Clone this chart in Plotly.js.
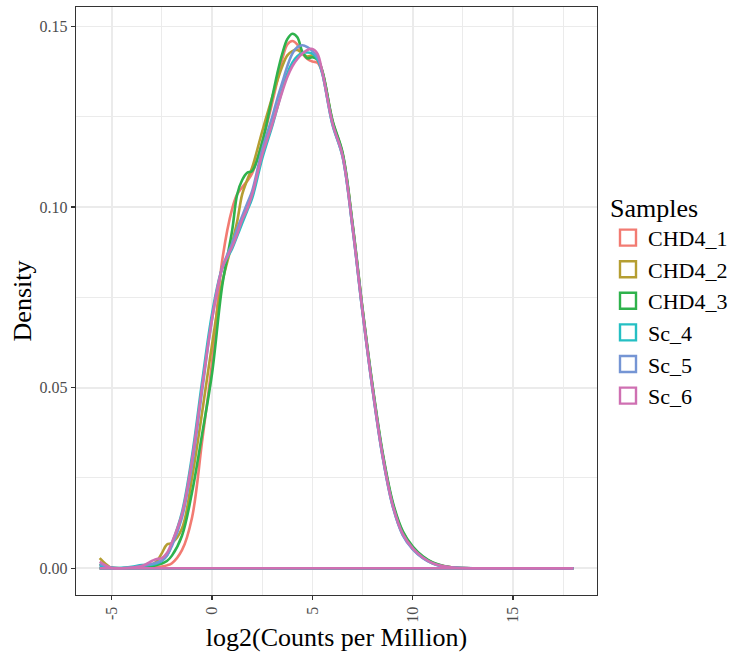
<!DOCTYPE html>
<html>
<head>
<meta charset="utf-8">
<script src="https://cdn.plot.ly/plotly-3.0.1.min.js"></script>
<style>
html,body{margin:0;padding:0;background:#fff;}
#chart{width:743px;height:658px;}
</style>
</head>
<body>
<div id="chart"></div>
<script>
// x positions of the density estimates (log2 CPM)
const xGrid = [-5.6,-5.3,-5,-4.5,-4,-3.5,-3,-2.75,-2.5,-2.25,-2,-1.5,-1,-0.5,0,0.5,1,1.25,1.5,1.75,2,2.5,3,3.25,3.5,3.75,4,4.25,4.5,4.75,5,5.25,5.5,
  6,6.5,7,7.5,8,8.5,9,9.5,10,10.5,11,11.5,12,13,14,15,16,17,18];

const sampleNames = ["CHD4_1","CHD4_2","CHD4_3","Sc_4","Sc_5","Sc_6"];

const CHD4_1 = [.0010,.0004,.0001,0,.0001,.0002,.0003,.0004,.0005,.0008,.0014,.0050,.0140,.0350,.0570,.0850,.0995,.1035,.1055,.1072,.1094,.1180,.1290,.1350,.1410,.1450,.1460,.1450,.1425,.1410,.1403,.1400,.1372,
  .1236,.1147,.0950,.0714,.0500,.0314,.0178,.0098,.0057,.0031,.0015,.0006,.0002,0,0,0,0,0,0];
const CHD4_2 = [.0028,.0012,.0001,0,.0001,.0003,.0010,.0020,.0042,.0066,.0070,.0110,.0250,.0430,.0620,.0790,.0900,.0960,.1035,.1075,.1110,.1210,.1305,.1350,.1390,.1420,.1432,.1435,.1425,.1417,.1420,.1412,.1375,
  .1238,.1149,.0952,.0716,.0502,.0316,.0180,.0100,.0058,.0032,.0015,.0006,.0002,0,0,0,0,0,0];
const CHD4_3 = [.0012,.0005,.0001,0,.0001,.0003,.0006,.0009,.0013,.0020,.0035,.0090,.0210,.0370,.0540,.0780,.0935,.1035,.1075,.1095,.1100,.1180,.1305,.1370,.1425,.1465,.1480,.1470,.1430,.1412,.1415,.1408,.1376,
  .1240,.1152,.0955,.0718,.0505,.0320,.0184,.0103,.0060,.0033,.0016,.0007,.0002,0,0,0,0,0,0];
const Sc_4 = [.0008,.0004,.0001,.0001,.0004,.0009,.0010,.0013,.0020,.0035,.0068,.0155,.0310,.0515,.0705,.0830,.0885,.0920,.0955,.0990,.1025,.1135,.1225,.1275,.1325,.1370,.1400,.1418,.1427,.1428,.1425,.1410,.1368,
  .1228,.1140,.0942,.0707,.0494,.0309,.0173,.0093,.0054,.0029,.0013,.0005,.0002,0,0,0,0,0,0];
const Sc_5 = [.0012,.0005,.0001,0,.0002,.0006,.0012,.0016,.0022,.0035,.0062,.0140,.0285,.0490,.0690,.0830,.0900,.0940,.0975,.1010,.1045,.1160,.1250,.1300,.1345,.1390,.1425,.1443,.1448,.1443,.1432,.1415,.1370,
  .1230,.1141,.0943,.0708,.0494,.0308,.0172,.0092,.0052,.0028,.0013,.0005,.0002,0,0,0,0,0,0];
const Sc_6 = [.0018,.0008,.0001,0,.0002,.0006,.0020,.0026,.0028,.0042,.0072,.0150,.0300,.0500,.0690,.0830,.0890,.0925,.0965,.0995,.1035,.1145,.1230,.1275,.1320,.1360,.1390,.1410,.1425,.1435,.1438,.1425,.1372,
  .1232,.1143,.0945,.0710,.0496,.0311,.0175,.0095,.0055,.0030,.0014,.0006,.0002,0,0,0,0,0,0];

const seriesValues = [CHD4_1, CHD4_2, CHD4_3, Sc_4, Sc_5, Sc_6];
const seriesColors = ["#F27B72","#B59E32","#2EB24C","#25BFC3","#7595D4","#CF70B2"];

const xTickVals = [-5,0,5,10,15];
const xTickText = ["-5","0","5","10","15"];
const yTickVals = [0,0.05,0.10,0.15];
const yTickText = ["0.00","0.05","0.10","0.15"];

const FONT = "Liberation Serif, Times New Roman, serif";
const traces = [];
const xMin = Math.min(...xGrid), xMax = Math.max(...xGrid);
seriesValues.forEach((vals, i) => {
  traces.push({
    type: "scatter", mode: "lines", x: xGrid, y: vals,
    line: {color: seriesColors[i], width: 2.6, shape: "spline", smoothing: 1},
    showlegend: false, hoverinfo: "skip"
  });
  traces.push({
    type: "scatter", mode: "lines", x: [xMin, xMax], y: [0, 0],
    line: {color: seriesColors[i], width: 2.6},
    showlegend: false, hoverinfo: "skip"
  });
});
// legend keys (hollow squares like ggplot's density key)
sampleNames.forEach((name, i) => {
  traces.push({
    type: "scatter", mode: "markers", x: [null], y: [null], name: name,
    marker: {symbol: "square-open", size: 22, color: seriesColors[i], line: {width: 2.4, color: seriesColors[i]}},
    showlegend: true
  });
});

const layout = {
  width: 743, height: 658,
  margin: {l: 76, r: 146, t: 7, b: 63},
  paper_bgcolor: "#ffffff", plot_bgcolor: "#ffffff",
  font: {family: FONT, color: "#000"},
  xaxis: {
    range: [-6.78, 19.18],
    tickvals: xTickVals, ticktext: xTickText, tickangle: -90,
    tickfont: {family: FONT, size: 16, color: "#4D4D4D"},
    ticks: "outside", ticklen: 4, tickwidth: 1.3, tickcolor: "#333333",
    showline: true, mirror: true, linecolor: "#333333", linewidth: 1.3,
    showgrid: true, gridcolor: "#EBEBEB", gridwidth: 1.8, zeroline: false,
    minor: {dtick: 2.5, tick0: 0, showgrid: true, gridcolor: "#EBEBEB", gridwidth: 1, ticks: ""},
    title: {text: "log2(Counts per Million)", font: {family: FONT, size: 26, color: "#000"}, standoff: 6}
  },
  yaxis: {
    range: [-0.0074, 0.1554],
    tickvals: yTickVals, ticktext: yTickText,
    tickfont: {family: FONT, size: 16, color: "#4D4D4D"},
    ticks: "outside", ticklen: 4, tickwidth: 1.3, tickcolor: "#333333",
    showline: true, mirror: true, linecolor: "#333333", linewidth: 1.3,
    showgrid: true, gridcolor: "#EBEBEB", gridwidth: 1.8, zeroline: false,
    minor: {dtick: 0.025, tick0: 0, showgrid: true, gridcolor: "#EBEBEB", gridwidth: 1, ticks: ""},
    title: {text: "Density", font: {family: FONT, size: 26, color: "#000"}, standoff: 0}
  },
  legend: {
    xref: "container", yref: "container",
    x: 608/743, xanchor: "left", y: 1 - 183/658, yanchor: "top",
    title: {text: "Samples", font: {family: FONT, size: 26, color: "#000"}},
    font: {family: FONT, size: 22, color: "#000"},
    itemwidth: 30, tracegroupgap: 0, bgcolor: "rgba(0,0,0,0)"
  },
  showlegend: true
};

Plotly.newPlot("chart", traces, layout, {displayModeBar: false, staticPlot: true});
</script>
</body>
</html>
